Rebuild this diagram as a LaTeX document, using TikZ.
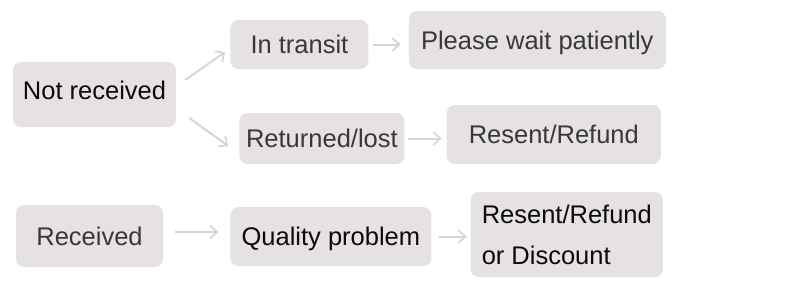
\documentclass[tikz,border=0pt]{standalone}
\usepackage{fontspec}
\setmainfont{Liberation Sans}
\usetikzlibrary{arrows.meta,positioning}
\definecolor{boxfill}{HTML}{E6E1E3}
\definecolor{arrgray}{HTML}{D6D4D5}
\definecolor{inkdark}{HTML}{0A0A0A}
\definecolor{inkgray}{HTML}{383838}

\begin{document}
\begin{tikzpicture}[
  x=1pt, y=-1pt,
  font=\fontsize{25.5}{41}\selectfont,
  box/.style={fill=boxfill, rounded corners=8pt, inner sep=0pt, align=center, text=inkgray},
  oneline/.style={text height=18pt, text depth=0pt},
  dark/.style={text=inkdark},
  arr/.style={-{Straight Barb[length=7pt,width=13pt,line width=1.7pt]}, line width=2pt, draw=arrgray}
]
\useasboundingbox (0,0) rectangle (800,290);
% not received
\node[box, oneline, dark, text depth=9pt, minimum width=163pt, minimum height=65pt] (nr) at (94.5,94.5) {Not received};
\node[box, oneline, minimum width=138pt, minimum height=49pt, right=54pt of nr, yshift=50pt] (it) {In transit};
\node[box, oneline, minimum width=257pt, minimum height=58pt, right=40pt of it, yshift=4.5pt] (pw) {Please wait patiently};
\node[box, oneline, minimum width=165pt, minimum height=51pt, right=63pt of nr, yshift=-44pt] (rl) {Returned/lost};
\node[box, oneline, minimum width=214pt, minimum height=59pt, right=42pt of rl, yshift=4pt] (rr) {Resent/Refund};
% received
\node[box, oneline, minimum width=147pt, minimum height=62pt] (rc) at (89.5,236) {Received};
\node[box, oneline, dark, minimum width=201pt, minimum height=59pt, right=67pt of rc, yshift=-0.5pt] (qp) {Quality problem};
\node[box, dark, align=left, minimum width=192pt, minimum height=85pt, right=39pt of qp, yshift=2pt] (rd) {Resent/Refund\\or Discount};
\draw[arr] ([shift={(9pt,14.5pt)}]nr.east) -- ([shift={(-5pt,-7.5pt)}]it.west);
\draw[arr] ([shift={(13pt,-23.5pt)}]nr.east) -- ([shift={(-11pt,-7.5pt)}]rl.west);
\draw[arr] ([xshift=4pt]it.east) -- ([xshift=-8pt]pw.west |- it.east);
\draw[arr] ([xshift=3pt]rl.east) -- ([xshift=-5pt]rr.west |- rl.east);
\draw[arr] ([shift={(12pt,4pt)}]rc.east) -- ([shift={(-12pt,4.5pt)}]qp.west);
\draw[arr] ([xshift=7pt]qp.east) -- ([xshift=-4pt]rd.west |- qp.east);
\end{tikzpicture}
\end{document}
